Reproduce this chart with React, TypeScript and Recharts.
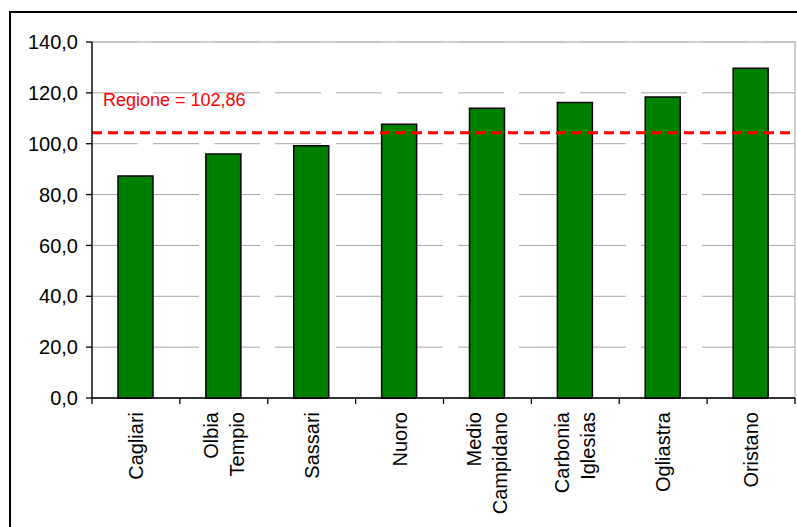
import React from "react";
import {
  BarChart,
  Bar,
  XAxis,
  YAxis,
  CartesianGrid,
  ReferenceLine,
  ReferenceArea,
} from "recharts";

const categories = [
  "Cagliari",
  "Olbia\nTempio",
  "Sassari",
  "Nuoro",
  "Medio\nCampidano",
  "Carbonia\nIglesias",
  "Ogliastra",
  "Oristano",
];
const values = [87.3, 96.0, 99.2, 107.7, 113.9, 116.2, 118.4, 129.7];
const yTicks = [0, 20, 40, 60, 80, 100, 120, 140];
const regionValue = 104.3;
const regionLabel = "Regione = 102,86";

const data = categories.map((name, i) => ({ name, value: values[i] }));

const FONT = "'Liberation Sans', Arial, sans-serif";

const fmt = (v: number) => v.toFixed(1).replace(".", ",");

function CategoryTick(props: any) {
  const { x, y, payload, index, width } = props;
  const band = (width || 703) / categories.length;
  const lines = String(payload.value).split("\n");
  const lh = 26;
  const first = 7 - ((lines.length - 1) * lh) / 2;
  const left = x - band / 2;
  return (
    <g>
      <line x1={left} y1={y} x2={left} y2={y + 6} stroke="#000" strokeWidth={1.3} />
      {index === categories.length - 1 && (
        <line x1={x + band / 2} y1={y} x2={x + band / 2} y2={y + 6} stroke="#000" strokeWidth={1.3} />
      )}
      <text
        transform={`translate(${x},${y + 14}) rotate(-90)`}
        textAnchor="end"
        fontSize={20}
        fontFamily={FONT}
        fill="#000"
      >
        {lines.map((l, i) => (
          <tspan key={i} x={0} dy={i === 0 ? first : lh}>
            {l}
          </tspan>
        ))}
      </text>
    </g>
  );
}

export default function App() {
  return (
    <div
      style={{
        position: "fixed",
        left: 0,
        top: 0,
        width: 797,
        height: 527,
        overflow: "hidden",
        background: "#fff",
      }}
    >
      <div
        style={{
          position: "absolute",
          left: 9,
          top: 11,
          width: 800,
          height: 530,
          border: "2px solid #000",
        }}
      />
      <div style={{ position: "absolute", left: 0, top: 0 }}>
        <BarChart
          width={797}
          height={527}
          data={data}
          margin={{ top: 42, right: 2, left: 0, bottom: 0 }}
        >
          <CartesianGrid
            vertical={false}
            stroke="#a6a6a6"
            strokeDasharray="46 15"
          />
          <ReferenceArea
            y1={0}
            y2={140}
            stroke="#c0c0c0"
            strokeWidth={1.5}
            fill="none"
            fillOpacity={0}
          />
          <XAxis
            dataKey="name"
            interval={0}
            height={129}
            tickLine={false}
            tickSize={0}
            tickMargin={0}
            stroke="#000"
            strokeWidth={1.3}
            tick={<CategoryTick />}
          />
          <YAxis
            width={92}
            domain={[0, 140]}
            ticks={yTicks}
            tickFormatter={fmt}
            tickSize={6}
            tickMargin={8}
            stroke="#000"
            strokeWidth={1.3}
            tick={{ fontSize: 20, fill: "#000", fontFamily: FONT }}
          />
          <Bar
            dataKey="value"
            fill="#008000"
            stroke="#000"
            strokeWidth={1.5}
            barSize={35}
            isAnimationActive={false}
          />
          <ReferenceLine
            y={regionValue}
            stroke="#ff0000"
            strokeWidth={3}
            strokeDasharray="10 6"
            label={(p: any) => (
              <text
                x={p.viewBox.x + 11}
                y={p.viewBox.y - 27}
                fill="#ff0000"
                fontSize={18}
                fontFamily={FONT}
              >
                {regionLabel}
              </text>
            )}
          />
        </BarChart>
      </div>
    </div>
  );
}
